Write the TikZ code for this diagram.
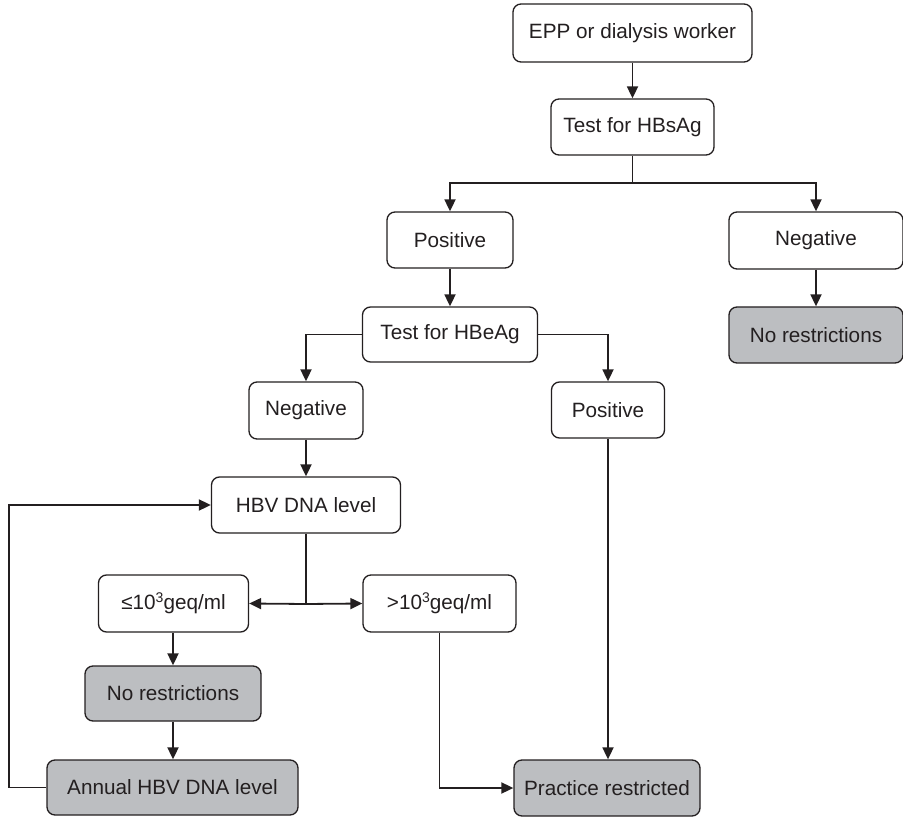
\documentclass[tikz,border=0pt]{standalone}
\usepackage{fontspec}
\setmainfont{Liberation Sans}
\usetikzlibrary{arrows.meta}

\definecolor{ink}{RGB}{35,31,32}
\definecolor{shade}{RGB}{188,190,193}

\newcommand\supnum[1]{\raisebox{7.5pt}{\fontsize{14}{14}\selectfont #1}}

\tikzset{
  box/.style={draw=ink, line width=1.3pt, rounded corners=8pt, fill=white,
    inner sep=0pt, text=ink, font=\fontsize{20.7}{24}\selectfont},
  outcome/.style={box, fill=shade},
  link/.style={draw=ink, line width=1.8pt},
  arr/.style={link, -{Triangle[length=12pt,width=11pt]}}
}

\begin{document}
\begin{tikzpicture}[x=1pt, y=-1pt]
  \useasboundingbox (0,0) rectangle (903,818);

  % boxes
  \node[box, minimum width=239pt, minimum height=58pt] (epp) at (632.5,33) {EPP or dialysis worker};
  \node[box, minimum width=163pt, minimum height=56pt] (tests) at (632.5,127) {Test for HBsAg};
  \node[box, minimum width=126pt, minimum height=56pt] (posA) at (450,240) {Positive};
  \node[box, minimum width=174pt, minimum height=57pt] (negA) at (816,240.5) {Negative};
  \node[outcome, minimum width=174pt, minimum height=56pt] (norA) at (816,335) {No restrictions};
  \node[box, minimum width=175pt, minimum height=55pt] (teste) at (450,334.5) {Test for HBeAg};
  \node[box, minimum width=114pt, minimum height=57pt] (negB) at (306,410.5) {Negative};
  \node[box, minimum width=113pt, minimum height=56pt] (posB) at (608,410) {Positive};
  \node[box, minimum width=189pt, minimum height=56pt] (hbv) at (306,505) {HBV DNA level};
  \node[box, minimum width=150pt, minimum height=57pt] (low) at (173.5,603.5) {≤10\supnum{3}geq/ml};
  \node[box, minimum width=153pt, minimum height=57pt] (high) at (439.5,603.5) {>10\supnum{3}geq/ml};
  \node[outcome, minimum width=176pt, minimum height=55pt] (norB) at (173,693.5) {No restrictions};
  \node[outcome, minimum width=251pt, minimum height=55pt] (annual) at (172.5,787.5) {Annual HBV DNA level};
  \node[outcome, minimum width=186pt, minimum height=56pt] (practice) at (607,788) {Practice restricted};

  % junction and loop points
  \coordinate (split) at (632.5,183);
  \coordinate (fork) at (306,604);
  \coordinate (loop) at (9,787.5);

  % connectors
  \draw[arr] (epp) -- (tests);
  \draw[link] (tests.south) -- (split);
  \draw[arr] (split) -| (posA.north);
  \draw[arr] (split) -| (negA.north);
  \draw[arr] (negA) -- (norA);
  \draw[arr] (posA) -- (teste);
  \draw[arr] (teste.west) -| (negB.north);
  \draw[arr] (teste.east) -| (posB.north);
  \draw[arr] (negB) -- (hbv);
  \draw[link] (hbv.south) -- (fork);
  \draw[arr] (fork) -- (low.east);
  \draw[arr] (fork) -- (high.west);
  \draw[arr] (low.south -| norB) -- (norB);
  \draw[arr] (norB) -- (annual.north -| norB);
  \draw[arr] (annual.west) -- (loop) |- (hbv.west);
  \draw[arr] (high.south) |- (practice.west);
  \draw[arr] (posB) -- (practice.north -| posB);
\end{tikzpicture}
\end{document}
